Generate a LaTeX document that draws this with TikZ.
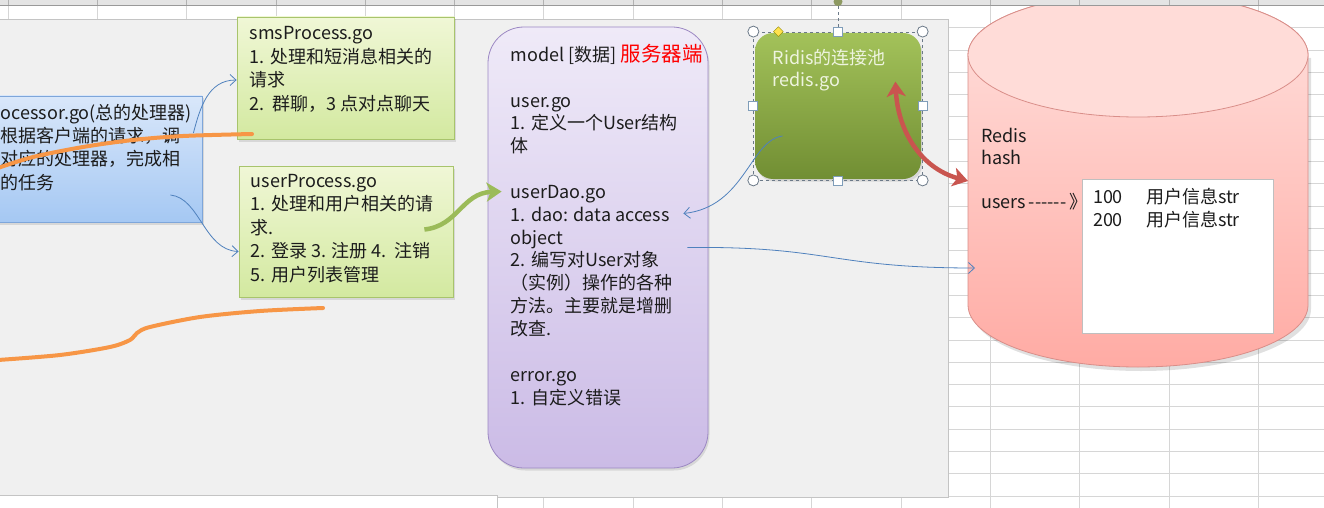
\documentclass[tikz,border=0pt]{standalone}
\usepackage{fontspec}
\setmainfont{Noto Sans CJK SC}
\usetikzlibrary{arrows.meta,shapes.geometric,shadows,positioning}
\definecolor{ink}{HTML}{1C1C1C}
\definecolor{gridgray}{HTML}{D6D6D6}
\definecolor{panelgray}{HTML}{F0F0F0}
\definecolor{panelline}{HTML}{C4C4C4}
\definecolor{headgray}{HTML}{E4E4E4}
\definecolor{proctop}{HTML}{D9E7FA}
\definecolor{procbot}{HTML}{A5C8F3}
\definecolor{procline}{HTML}{7EA6DA}
\definecolor{smstop}{HTML}{F0F7D6}
\definecolor{smsbot}{HTML}{D3E9A0}
\definecolor{smsline}{HTML}{A8C46C}
\definecolor{modeltop}{HTML}{EFEAF8}
\definecolor{modelbot}{HTML}{CBBBE6}
\definecolor{modelline}{HTML}{9C88C3}
\definecolor{pooltop}{HTML}{A3C25A}
\definecolor{poolbot}{HTML}{718E33}
\definecolor{pooltext}{HTML}{EEF4DF}
\definecolor{cyltop}{HTML}{FFE1DE}
\definecolor{cylbot}{HTML}{FFABA4}
\definecolor{cyllid}{HTML}{FFDCD8}
\definecolor{cylline}{HTML}{D98E89}
\definecolor{linkblue}{HTML}{4F81BD}
\definecolor{scribbleorange}{HTML}{F79646}
\definecolor{arrowgreen}{HTML}{9BBB59}
\definecolor{arrowred}{HTML}{C9554F}
\definecolor{handleline}{HTML}{6C7A89}
\definecolor{handlesq}{HTML}{7F9DB9}
\definecolor{handleyellow}{HTML}{FFE24D}
\definecolor{rothandle}{HTML}{8E9A62}
\newcommand{\firstline}{\rule{0pt}{18pt}}
\tikzstyle{gridline}=[draw=gridgray, line width=0.8pt]
\tikzstyle{card}=[rectangle, inner sep=0pt, line width=0.8pt,
                  drop shadow={opacity=0.22,shadow xshift=1.5pt,shadow yshift=-2.5pt}]
\tikzstyle{note}=[anchor=north west, inner sep=0pt, align=left, text=ink]
\tikzstyle{link}=[draw=linkblue, line width=0.8pt, -{Straight Barb[length=6pt,width=11pt]}]
\tikzstyle{fat}=[line width=4.5pt, -{Stealth[length=15pt,width=19pt,inset=4pt]}]
\tikzstyle{scribble}=[draw=scribbleorange, line width=4pt, line cap=round]
\tikzstyle{handle}=[circle, draw=handleline, fill=white, minimum size=11pt, inner sep=0pt, line width=0.8pt]
\tikzstyle{sqhandle}=[rectangle, draw=handlesq, fill=white, minimum size=9pt, inner sep=0pt, line width=0.8pt]
\begin{document}
\begin{tikzpicture}[x=1pt,y=-1pt]
\useasboundingbox (0,0) rectangle (1324,508);
\clip (0,0) rectangle (1324,508);
% sheet
\fill[white] (0,0) rectangle (1324,508);
\foreach \i in {0,...,14}
  \draw[gridline] ({8+89.3*\i},5) -- ({8+89.3*\i},508);
\foreach \j in {1,...,22}
  \draw[gridline] (0,{5.4+22.3*\j}) -- (1324,{5.4+22.3*\j});
\fill[panelgray,draw=panelline,line width=0.8pt] (-2,19.5) rectangle (948,497.5);
\fill[white,draw=panelline,line width=0.8pt] (-2,495.5) rectangle (497,510);

% redis cylinder
\fill[black,opacity=0.12] (971,58) -- (971,309) arc[start angle=180,end angle=0,x radius=170,y radius=62]
  -- (1311,58) -- cycle;
\path[top color=cyltop,bottom color=cylbot,draw=cylline,line width=0.8pt]
  (968,55) -- (968,305) arc[start angle=180,end angle=0,x radius=170,y radius=62]
  -- (1308,55) arc[start angle=0,end angle=-180,x radius=170,y radius=62] -- cycle;
\draw[cylline,fill=cyllid,line width=0.8pt] (1138,55) ellipse[x radius=170,y radius=62];
\coordinate (dbin) at (968,181);
\coordinate (dbarr) at (975,268);

% column header
\fill[headgray] (0,-1) rectangle (1324,5);
\draw[gray!80,line width=0.8pt] (0,5) -- (1324,5);
\foreach \i in {0,...,14}
  \draw[gray!60,line width=0.8pt] ({8+89.3*\i},-1) -- ({8+89.3*\i},5);

% boxes
\node[card,top color=proctop,bottom color=procbot,draw=procline,
      minimum width=222pt,minimum height=126pt] (proc) at (91,159) {};
\node[card,top color=smstop,bottom color=smsbot,draw=smsline,
      minimum width=217pt,minimum height=122pt] (sms) at (345.5,78) {};
\node[card,top color=smstop,bottom color=smsbot,draw=smsline,
      minimum width=214pt,minimum height=131pt] (user) at (346,231.5) {};
\node[card,rounded corners=36pt,top color=modeltop,bottom color=modelbot,draw=modelline,
      minimum width=220pt,minimum height=441pt] (model) at (598,247.5) {};
\node[card,rounded corners=18pt,top color=pooltop,bottom color=poolbot,
      minimum width=166pt,minimum height=146pt] (pool) at (838,106) {};
\node[rectangle,draw=gray!50,fill=white,inner sep=0pt,
      minimum width=191pt,minimum height=154pt] (tab) at (1177.5,256) {};

% texts
\node[note,font=\fontsize{18}{23.3}\selectfont] (proctxt) at ([xshift=21pt,yshift=-5.5pt]proc.north west)
  {\firstline ocessor.go(总的处理器)\\根据客户端的请求，调\\对应的处理器，完成相\\的任务};
\node[note,font=\fontsize{18}{23.5}\selectfont] (smstxt) at ([xshift=13pt,yshift=-5pt]sms.north west)
  {\firstline smsProcess.go\\1. 处理和短消息相关的\\请求\\2.\ \ 群聊，3 点对点聊天};
\node[note,font=\fontsize{18}{23.5}\selectfont] (usertxt) at ([xshift=12pt,yshift=-3.5pt]user.north west)
  {\firstline userProcess.go\\1. 处理和用户相关的请\\求.\\2. 登录 3. 注册 4.\ \ 注销\\5. 用户列表管理};
\node[note,font=\fontsize{18}{22.85}\selectfont] (modeltxt) at ([xshift=23pt,yshift=-16.5pt]model.north west)
  {\firstline model [数据] {\color{red}\fontsize{20.5}{22.85}\selectfont 服务器端}\\
   \\
   user.go\\
   1. 定义一个User结构\\
   体\\
   \\
   userDao.go\\
   1. dao: data access\\
   object\\
   2. 编写对User对象\\
   （实例）操作的各种\\
   方法。主要就是增删\\
   改查.\\
   \\
   error.go\\
   1. 自定义错误};
\node[note,text=pooltext,font=\fontsize{18}{22}\selectfont] (pooltxt) at ([xshift=18pt,yshift=-14pt]pool.north west)
  {\firstline Ridis的连接池\\redis.go};
\node[note,font=\fontsize{18}{22.2}\selectfont] (redistxt) at (981,124)
  {\firstline Redis\\hash\\ \\users\,{-}{-}{-}{-}{-}{-}\,》};
\node[note,font=\fontsize{18}{23}\selectfont] (tabkey) at ([xshift=11pt,yshift=-6.5pt]tab.north west)
  {\firstline 100\\200};
\node[note,font=\fontsize{18}{23}\selectfont] (tabval) at ([xshift=64pt,yshift=-6.5pt]tab.north west)
  {\firstline 用户信息str\\用户信息str};

% selection handles of the pool box
\node[rectangle,draw=handleline,dashed,line width=0.8pt,inner sep=0pt,
      minimum width=168.5pt,minimum height=148pt] (sel) at (pool.center) {};
\node[circle,fill=rothandle,inner sep=0pt,minimum size=9pt] (rot) at ([yshift=30pt]sel.north) {};
\draw[handleline,dashed,line width=0.8pt] (rot) -- (sel.north);
\foreach \a/\n in {north west/nw,north east/ne,south west/sw,south east/se}
  \node[handle] (h\n) at (sel.\a) {};
\foreach \a in {north,south,east,west}
  \node[sqhandle] (s\a) at (sel.\a) {};
\node[diamond,draw=olive,fill=handleyellow,inner sep=0pt,minimum size=10pt] (adj)
  at ([xshift=25pt]sel.north west) {};

% connectors
\draw[link] ([xshift=-9pt,yshift=26pt]proc.east) .. controls (200,108) and (208,80) .. ([yshift=-2pt]sms.west);
\draw[link] ([xshift=-32pt,yshift=-36pt]proc.east) .. controls (200,198) and (204,250) .. ([yshift=-20pt]user.west);
\draw[link] ([xshift=28pt,yshift=-30pt]pool.west) .. controls (750,140) and (745,207) .. ([xshift=-25pt,yshift=34pt]model.east);
\draw[link] ([xshift=-21pt]model.east) .. controls (830,246) and (830,268) .. (dbarr);
\draw[fat,arrowgreen] ([xshift=-29pt,yshift=2pt]user.east) .. controls (458,226) and (462,193) .. ([xshift=14pt,yshift=56pt]model.west);
\draw[fat,arrowred,{Stealth[length=15pt,width=19pt,inset=4pt]}-{Stealth[length=15pt,width=19pt,inset=4pt]}]
  ([xshift=-26pt,yshift=-49pt]pool.north east) .. controls (898,130) and (920,168) .. (dbin);

% marks over the slide
\draw[scribble] plot[smooth] coordinates {(-2,168) (33,157) (83,147) (133,140) (183,136) (252,134)};
\draw[scribble] plot[smooth] coordinates {(-2,360) (60,355) (110,347) (130,340) (137,333) (150,327) (200,317) (260,311) (323,308)};
\end{tikzpicture}
\end{document}
